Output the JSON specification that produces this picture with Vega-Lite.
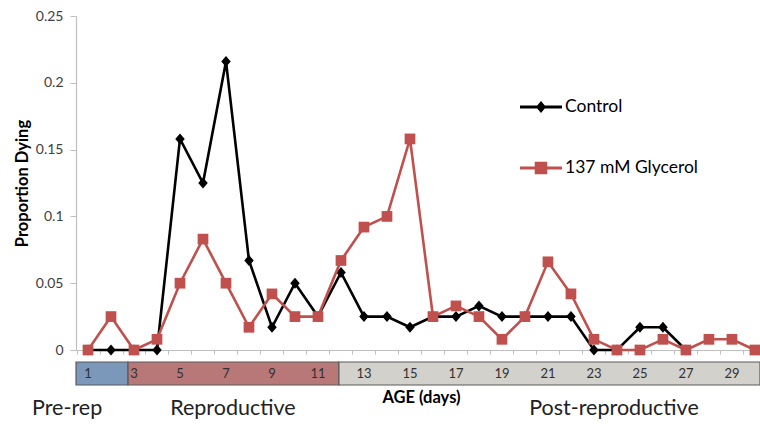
{
  "$schema": "https://vega.github.io/schema/vega-lite/v6.json",
  "autosize": {"type": "pad"},
  "padding": {"left": 14, "top": 9, "right": 0, "bottom": 0},
  "background": "white",
  "bounds": "flush",
  "spacing": 12,
  "resolve": {"scale": {"color": "independent", "x": "independent"}, "legend": {"color": "independent"}},
  "config": {
    "font": "Lato",
    "view": {"stroke": null}
  },
  "datasets": {
    "deaths": [
      {"day": 1, "series": "Control", "value": 0},
      {"day": 2, "series": "Control", "value": 0},
      {"day": 3, "series": "Control", "value": 0},
      {"day": 4, "series": "Control", "value": 0},
      {"day": 5, "series": "Control", "value": 0.158},
      {"day": 6, "series": "Control", "value": 0.125},
      {"day": 7, "series": "Control", "value": 0.216},
      {"day": 8, "series": "Control", "value": 0.067},
      {"day": 9, "series": "Control", "value": 0.017},
      {"day": 10, "series": "Control", "value": 0.05},
      {"day": 11, "series": "Control", "value": 0.025},
      {"day": 12, "series": "Control", "value": 0.058},
      {"day": 13, "series": "Control", "value": 0.025},
      {"day": 14, "series": "Control", "value": 0.025},
      {"day": 15, "series": "Control", "value": 0.017},
      {"day": 16, "series": "Control", "value": 0.025},
      {"day": 17, "series": "Control", "value": 0.025},
      {"day": 18, "series": "Control", "value": 0.033},
      {"day": 19, "series": "Control", "value": 0.025},
      {"day": 20, "series": "Control", "value": 0.025},
      {"day": 21, "series": "Control", "value": 0.025},
      {"day": 22, "series": "Control", "value": 0.025},
      {"day": 23, "series": "Control", "value": 0},
      {"day": 24, "series": "Control", "value": 0},
      {"day": 25, "series": "Control", "value": 0.017},
      {"day": 26, "series": "Control", "value": 0.017},
      {"day": 27, "series": "Control", "value": 0},
      {"day": 1, "series": "137 mM Glycerol", "value": 0},
      {"day": 2, "series": "137 mM Glycerol", "value": 0.025},
      {"day": 3, "series": "137 mM Glycerol", "value": 0},
      {"day": 4, "series": "137 mM Glycerol", "value": 0.008},
      {"day": 5, "series": "137 mM Glycerol", "value": 0.05},
      {"day": 6, "series": "137 mM Glycerol", "value": 0.083},
      {"day": 7, "series": "137 mM Glycerol", "value": 0.05},
      {"day": 8, "series": "137 mM Glycerol", "value": 0.017},
      {"day": 9, "series": "137 mM Glycerol", "value": 0.042},
      {"day": 10, "series": "137 mM Glycerol", "value": 0.025},
      {"day": 11, "series": "137 mM Glycerol", "value": 0.025},
      {"day": 12, "series": "137 mM Glycerol", "value": 0.067},
      {"day": 13, "series": "137 mM Glycerol", "value": 0.092},
      {"day": 14, "series": "137 mM Glycerol", "value": 0.1},
      {"day": 15, "series": "137 mM Glycerol", "value": 0.158},
      {"day": 16, "series": "137 mM Glycerol", "value": 0.025},
      {"day": 17, "series": "137 mM Glycerol", "value": 0.033},
      {"day": 18, "series": "137 mM Glycerol", "value": 0.025},
      {"day": 19, "series": "137 mM Glycerol", "value": 0.008},
      {"day": 20, "series": "137 mM Glycerol", "value": 0.025},
      {"day": 21, "series": "137 mM Glycerol", "value": 0.066},
      {"day": 22, "series": "137 mM Glycerol", "value": 0.042},
      {"day": 23, "series": "137 mM Glycerol", "value": 0.008},
      {"day": 24, "series": "137 mM Glycerol", "value": 0},
      {"day": 25, "series": "137 mM Glycerol", "value": 0},
      {"day": 26, "series": "137 mM Glycerol", "value": 0.008},
      {"day": 27, "series": "137 mM Glycerol", "value": 0},
      {"day": 28, "series": "137 mM Glycerol", "value": 0.008},
      {"day": 29, "series": "137 mM Glycerol", "value": 0.008},
      {"day": 30, "series": "137 mM Glycerol", "value": 0}
    ],
    "stages": [
      {"stage": "Pre-rep", "start": 0.478, "end": 2.74, "labelDay": 0.09},
      {"stage": "Reproductive", "start": 2.74, "end": 11.91, "labelDay": 7.3},
      {"stage": "Post-reproductive", "start": 11.91, "end": 30.22, "labelDay": 23.87}
    ],
    "dayLabels": [
      {"day": 1}, {"day": 3}, {"day": 5}, {"day": 7}, {"day": 9},
      {"day": 11}, {"day": 13}, {"day": 15}, {"day": 17}, {"day": 19},
      {"day": 21}, {"day": 23}, {"day": 25}, {"day": 27}, {"day": 29}
    ]
  },
  "vconcat": [
    {
      "width": 684,
      "height": 334,
      "data": {"name": "deaths"},
      "encoding": {
        "x": {
          "field": "day", "type": "quantitative",
          "scale": {"domain": [0.478, 30.22], "nice": false, "zero": false},
          "axis": {
            "values": [0.5,1.5,2.5,3.5,4.5,5.5,6.5,7.5,8.5,9.5,10.5,11.5,12.5,13.5,14.5,15.5,16.5,17.5,18.5,19.5,20.5,21.5,22.5,23.5,24.5,25.5,26.5,27.5,28.5,29.5],
            "labels": false, "grid": false, "title": null,
            "domainColor": "#bfbfbf", "tickColor": "#bfbfbf", "tickSize": 4, "domainWidth": 1.2
          }
        },
        "y": {
          "field": "value", "type": "quantitative",
          "scale": {"domain": [0, 0.25], "nice": false},
          "axis": {
            "values": [0, 0.05, 0.1, 0.15, 0.2, 0.25],
            "format": "~g", "grid": false,
            "title": "Proportion Dying",
            "titleFontWeight": "bold", "titleFontSize": 16.5, "titleColor": "#000000",
            "titlePadding": 5,
            "labelFontSize": 14, "labelColor": "#404040", "labelPadding": 7,
            "domainColor": "#bfbfbf", "tickColor": "#bfbfbf", "tickSize": 6, "domainWidth": 1.2
          }
        }
      },
      "layer": [
        {
          "transform": [{"filter": "datum.series === 'Control'"}],
          "mark": {"type": "line", "strokeWidth": 2.6},
          "encoding": {
            "color": {
              "field": "series", "type": "nominal",
              "scale": {"domain": ["Control", "137 mM Glycerol"], "range": ["#000000", "#c0504d"]},
              "legend": {
                "orient": "none", "legendX": 444, "legendY": 70,
                "title": null,
                "symbolSize": 1764,
                "labelFontSize": 17.5, "labelColor": "#000000", "labelOffset": 3,
                "rowPadding": 31,
                "encode": {
                  "symbols": {
                    "update": {
                      "shape": {"signal": "datum.value === 'Control' ? 'M-1,-0.07H1V0.07H-1Z M0,-0.28L0.24,0L0,0.28L-0.24,0Z' : 'M-1,-0.07H1V0.07H-1Z M-0.3,-0.3H0.3V0.3H-0.3Z'"},
                      "fill": {"signal": "datum.value === 'Control' ? '#000000' : '#c0504d'"},
                      "stroke": {"value": "transparent"},
                      "strokeWidth": {"value": 0},
                      "opacity": {"value": 1}
                    }
                  }
                }
              }
            }
          }
        },
        {
          "transform": [{"filter": "datum.series === 'Control'"}],
          "mark": {"type": "point", "filled": true, "opacity": 1, "size": 100, "shape": "M0,-1.1L0.95,0L0,1.1L-0.95,0Z", "color": "#000000"}
        },
        {
          "transform": [{"filter": "datum.series === '137 mM Glycerol'"}],
          "mark": {"type": "line", "strokeWidth": 2.6, "color": "#c0504d"}
        },
        {
          "transform": [{"filter": "datum.series === '137 mM Glycerol'"}],
          "mark": {"type": "point", "filled": true, "opacity": 1, "size": 115, "shape": "square", "color": "#c0504d"}
        }
      ]
    },
    {
      "width": 684,
      "height": 23,
      "layer": [
        {
          "data": {"name": "stages"},
          "mark": {"type": "rect", "stroke": "#5a5a5a", "strokeWidth": 1.2},
          "encoding": {
            "x": {
              "field": "start", "type": "quantitative",
              "scale": {"domain": [0.478, 30.22], "nice": false, "zero": false},
              "axis": {
                "labels": false, "ticks": false, "domain": false, "grid": false,
                "title": "AGE (days)", "titleFontWeight": "bold", "titleFontSize": 16.5,
                "titleColor": "#000000", "titlePadding": 4, "titleX": 345
              }
            },
            "x2": {"field": "end"},
            "fill": {
              "field": "stage", "type": "nominal",
              "scale": {"domain": ["Pre-rep", "Reproductive", "Post-reproductive"], "range": ["#7b97b9", "#b97878", "#d3d1cb"]},
              "legend": null
            }
          }
        },
        {
          "data": {"name": "dayLabels"},
          "mark": {"type": "text", "fontSize": 13, "color": "#303030", "baseline": "middle"},
          "encoding": {
            "x": {"field": "day", "type": "quantitative"},
            "text": {"field": "day", "type": "quantitative"}
          }
        },
        {
          "data": {"name": "stages"},
          "mark": {"type": "text", "fontSize": 21.5, "color": "#222222", "baseline": "middle", "dy": 35},
          "encoding": {
            "x": {"field": "labelDay", "type": "quantitative"},
            "text": {"field": "stage", "type": "nominal"}
          }
        }
      ]
    }
  ]
}
